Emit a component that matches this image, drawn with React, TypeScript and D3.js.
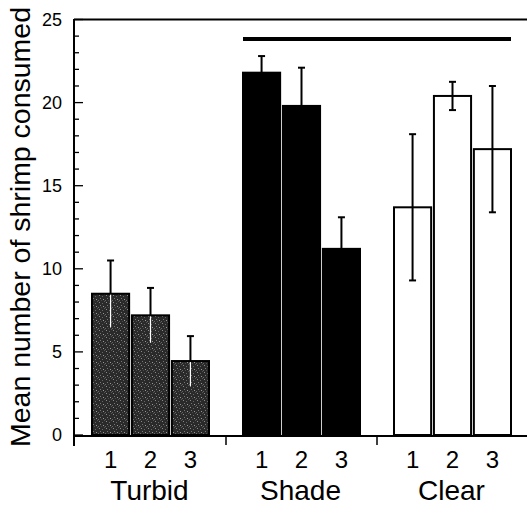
import React from "react";
import * as d3 from "d3";

// Data
const groups = ["Turbid", "Shade", "Clear"];
const reps = ["1", "2", "3"];
const turbidMeans = [8.5, 7.2, 4.45];
const turbidErr = [2.0, 1.65, 1.5];
const shadeMeans = [21.8, 19.8, 11.2];
const shadeErr = [1.0, 2.3, 1.9];
const clearMeans = [13.7, 20.4, 17.2];
const clearErr = [4.4, 0.85, 3.8];
const yTicks = [0, 5, 10, 15, 20, 25];

const W = 527;
const H = 506;
const FONT = "'Liberation Sans', Arial, Helvetica, sans-serif";

// lower: how the lower half of the error bar is drawn
const series = [
  { group: "Turbid", means: turbidMeans, err: turbidErr, fill: "url(#stipple)", lower: "white" },
  { group: "Shade", means: shadeMeans, err: shadeErr, fill: "#000", lower: "none" },
  { group: "Clear", means: clearMeans, err: clearErr, fill: "#fff", lower: "black" },
];

const App = () => {
  const y = d3.scaleLinear().domain([0, 25]).range([435, 19.5]);
  const xGroup = d3.scaleBand().domain(groups).range([75, 528]);
  const xRep = d3.scaleBand().domain(reps).range([17, 134]).paddingInner(0.07);
  const bw = xRep.bandwidth();
  const x0 = 74;
  const axisY = 436;

  const minor = d3.range(0, 26, 1);

  // significance line from Shade rep 1 to Clear rep 3
  const sigX1 = xGroup("Shade")! + xRep("1")!;
  const sigX2 = xGroup("Clear")! + xRep("3")! + bw;

  return (
    <svg width={W} height={H} style={{ position: "absolute", left: 0, top: 0 }}>
      <defs>
        <pattern id="stipple" width="7" height="7" patternUnits="userSpaceOnUse">
          <rect width="7" height="7" fill="#2a2a2a" />
          <rect x="1" y="1" width="1" height="1" fill="#8a8a8a" />
          <rect x="4" y="2" width="1" height="1" fill="#666" />
          <rect x="2" y="4" width="1" height="1" fill="#777" />
          <rect x="5" y="5" width="1" height="1" fill="#999" />
          <rect x="6" y="0" width="1" height="1" fill="#555" />
          <rect x="0" y="6" width="1" height="1" fill="#666" />
          <rect x="3" y="6" width="1" height="1" fill="#4a4a4a" />
        </pattern>
      </defs>

      {/* y axis label */}
      <text
        transform={`translate(30,${227}) rotate(-90)`}
        textAnchor="middle"
        fontFamily={FONT}
        fontSize={28}
        textLength={440}
        lengthAdjust="spacingAndGlyphs"
        fill="#000"
      >
        Mean number of shrimp consumed
      </text>

      {/* frame: top line, left axis */}
      <line x1={x0} x2={W} y1={19.5} y2={19.5} stroke="#000" strokeWidth={2} />
      <line x1={x0} x2={x0} y1={19} y2={446} stroke="#000" strokeWidth={2} />

      {/* y ticks */}
      {minor.map((v) => (
        <line
          key={"m" + v}
          x1={x0}
          x2={x0 + (v % 5 === 0 ? 9 : 5)}
          y1={y(v)}
          y2={y(v)}
          stroke="#000"
          strokeWidth={1.3}
        />
      ))}
      {yTicks.map((v) => (
        <text
          key={"t" + v}
          x={62}
          y={y(v)}
          dy="0.36em"
          textAnchor="end"
          fontFamily={FONT}
          fontSize={18}
          fill="#000"
        >
          {v}
        </text>
      ))}

      {/* bars */}
      {series.map((s) =>
        s.means.map((m, i) => {
          const bx = xGroup(s.group)! + xRep(reps[i])!;
          const cx = bx + bw / 2;
          const top = y(m + s.err[i]);
          const bot = y(m - s.err[i]);
          return (
            <g key={s.group + i}>
              <rect
                x={bx}
                y={y(m)}
                width={bw}
                height={y(0) - y(m)}
                fill={s.fill}
                stroke="#000"
                strokeWidth={2}
              />
              <line x1={cx} x2={cx} y1={top} y2={y(m)} stroke="#000" strokeWidth={2} />
              <line x1={cx - 3.5} x2={cx + 3.5} y1={top} y2={top} stroke="#000" strokeWidth={2} />
              {s.lower === "white" && (
                <line x1={cx} x2={cx} y1={y(m) + 1} y2={bot} stroke="#fff" strokeWidth={1.2} />
              )}
              {s.lower === "black" && (
                <>
                  <line x1={cx} x2={cx} y1={y(m)} y2={bot} stroke="#000" strokeWidth={2} />
                  <line x1={cx - 3.5} x2={cx + 3.5} y1={bot} y2={bot} stroke="#000" strokeWidth={2} />
                </>
              )}
            </g>
          );
        })
      )}

      {/* x axis */}
      <line x1={x0} x2={W} y1={axisY} y2={axisY} stroke="#000" strokeWidth={2} />
      {groups.slice(1).map((g) => (
        <line
          key={"sep" + g}
          x1={xGroup(g)!}
          x2={xGroup(g)!}
          y1={axisY}
          y2={axisY + 9}
          stroke="#000"
          strokeWidth={1.5}
        />
      ))}
      {groups.map((g) => (
        <g key={"lab" + g}>
          {reps.map((r) => (
            <text
              key={r}
              x={xGroup(g)! + xRep(r)! + bw / 2}
              y={468}
              textAnchor="middle"
              fontFamily={FONT}
              fontSize={24}
              fill="#000"
            >
              {r}
            </text>
          ))}
          <text
            x={xGroup(g)! + xGroup.bandwidth() / 2 - 1}
            y={500}
            textAnchor="middle"
            fontFamily={FONT}
            fontSize={28}
            fill="#000"
          >
            {g}
          </text>
        </g>
      ))}

      {/* significance bar */}
      <line x1={sigX1} x2={sigX2} y1={39} y2={39} stroke="#000" strokeWidth={4} />
    </svg>
  );
};

export default App;
